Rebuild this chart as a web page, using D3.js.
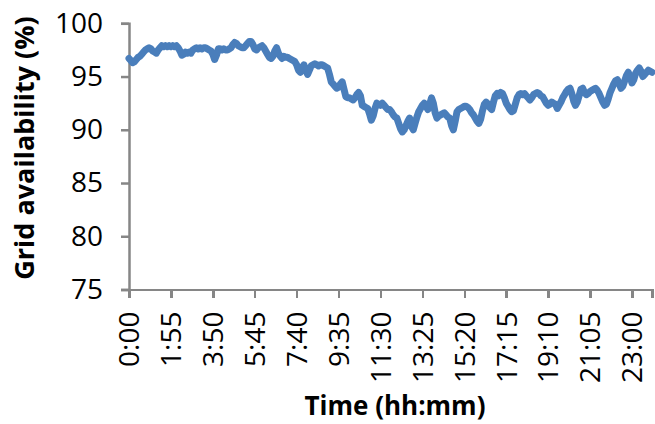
<!DOCTYPE html>
<html>
<head>
<meta charset="utf-8">
<script src="https://cdn.jsdelivr.net/npm/d3@7"></script>
<style>
  html, body { margin: 0; padding: 0; background: #fff; }
  svg { display: block; }
  text { font-family: "Open Sans", "Noto Sans", sans-serif; fill: #000; }
</style>
</head>
<body>
<svg id="chart" width="655" height="424"></svg>
<script>
// Time categories: minutes after midnight at 5-minute steps (0:00 ... 23:55)
const minutes = d3.range(0, 1440, 5);

// Grid availability (%), one value per 5 minutes
const availability = [
  96.7, 96.5, 96.3, 96.4, 96.6, 96.8, 96.9, 97.1, 97.3, 97.5, 97.6, 97.7,
  97.6, 97.4, 97.3, 97.2, 97.5, 97.7, 97.9, 97.8, 97.9, 97.8, 97.9, 97.8,
  97.9, 97.8, 97.9, 97.7, 97.4, 97.0, 97.1, 97.3, 97.2, 97.3, 97.2, 97.5,
  97.6, 97.7, 97.6, 97.7, 97.6, 97.7, 97.7, 97.6, 97.5, 97.4, 97.1, 96.6,
  97.0, 97.6, 97.6, 97.5, 97.6, 97.5, 97.5, 97.6, 97.7, 98.0, 98.2, 98.1,
  97.9, 97.8, 97.7, 97.7, 97.9, 98.1, 98.3, 98.3, 98.0, 97.6, 97.5, 97.7,
  97.8, 97.9, 97.7, 97.4, 97.1, 96.8, 96.7, 96.9, 97.4, 97.7, 97.2, 96.9,
  96.7, 96.9, 96.8, 96.8, 96.7, 96.6, 96.5, 96.4, 96.1, 95.6, 95.4, 95.8,
  96.1, 95.6, 95.2, 95.6, 96.0, 96.1, 96.2, 96.1, 96.0, 96.1, 96.1, 96.0,
  95.9, 95.8, 95.2, 94.5, 94.3, 94.1, 93.9, 94.0, 94.3, 94.5, 93.8, 93.1,
  93.0, 93.0, 92.9, 92.8, 93.0, 93.3, 93.5, 93.2, 92.3, 92.2, 92.1, 92.0,
  91.5, 90.9, 91.3, 92.0, 92.5, 92.4, 92.3, 92.5, 92.3, 92.1, 91.9, 91.9,
  91.7, 91.4, 91.2, 91.1, 90.6, 90.1, 89.8, 90.0, 90.4, 90.8, 91.1, 90.3,
  90.0, 90.6, 91.2, 91.7, 92.0, 92.3, 92.5, 92.2, 91.9, 92.4, 93.0, 92.5,
  91.6, 91.1, 91.3, 91.4, 91.5, 91.6, 91.4, 91.2, 91.1, 90.4, 90.0, 90.8,
  91.7, 91.9, 92.0, 92.1, 92.2, 92.2, 92.1, 91.9, 91.6, 91.4, 91.1, 90.8,
  90.6, 91.0, 91.8, 92.4, 92.6, 92.4, 92.1, 91.9, 92.6, 93.2, 93.4, 93.2,
  93.5, 93.4, 93.0, 92.5, 92.2, 91.9, 91.7, 91.8, 92.4, 93.0, 93.3, 93.4,
  93.3, 93.4, 93.2, 93.0, 92.8, 93.0, 93.3, 93.4, 93.5, 93.4, 93.2, 93.1,
  92.8, 92.5, 92.3, 92.4, 92.6, 92.5, 92.4, 92.0, 92.3, 92.6, 93.0, 93.3,
  93.6, 93.8, 93.9, 93.4, 92.7, 92.3, 92.6, 93.2, 93.8, 93.9, 93.5, 93.3,
  93.4, 93.6, 93.7, 93.8, 93.9, 93.7, 93.4, 93.0, 92.6, 92.3, 92.4, 92.9,
  93.5, 93.9, 94.3, 94.6, 94.7, 94.3, 93.9, 94.1, 94.6, 95.1, 95.4, 95.0,
  94.4, 94.7, 95.3, 95.6, 95.8, 95.5, 95.0, 95.2, 95.4, 95.6, 95.5, 95.4
];

// Tick labels
const xTickLabels = ["0:00","1:55","3:50","5:45","7:40","9:35","11:30","13:25","15:20","17:15","19:10","21:05","23:00"];
const yTicks = [75, 80, 85, 90, 95, 100];

const toMin = s => { const [h, m] = s.split(":").map(Number); return h * 60 + m; };

const svg = d3.select("#chart");
const axisColor = "#868686";

const x = d3.scaleLinear().domain([0, 1435]).range([129, 652]);
const y = d3.scaleLinear().domain([75, 100]).range([289.5, 23.3]);

// Y axis
const yAxis = d3.axisLeft(y).tickValues(yTicks).tickSize(8).tickPadding(18).tickFormat(d3.format("d"));
const gy = svg.append("g").attr("transform", `translate(${x(0)},0)`).call(yAxis);
gy.select(".domain").attr("stroke", axisColor).attr("stroke-width", 2.5);
gy.selectAll(".tick line").attr("stroke", axisColor).attr("stroke-width", 2.5);
gy.selectAll(".tick text").attr("font-size", 28).attr("font-family", "'Open Sans', sans-serif").attr("fill", "#000");

// X axis
const xAxis = d3.axisBottom(x).tickValues(xTickLabels.map(toMin)).tickSize(8)
  .tickFormat((d, i) => xTickLabels[i]);
const gx = svg.append("g").attr("transform", `translate(0,${y(75)})`).call(xAxis);
gx.select(".domain").attr("stroke", axisColor).attr("stroke-width", 2.5);
gx.selectAll(".tick line").attr("stroke", axisColor).attr("stroke-width", 2.5);
gx.selectAll(".tick text")
  .attr("font-size", 28).attr("font-family", "'Open Sans', sans-serif").attr("fill", "#000")
  .attr("text-anchor", "end")
  .attr("transform", "rotate(-90)")
  .attr("x", -22).attr("y", 0).attr("dy", "0.35em");
gx.selectAll(".domain, .tick line").attr("shape-rendering", "crispEdges");

// Line
const line = d3.line()
  .x((d, i) => x(minutes[i]))
  .y(d => y(d))
  .curve(d3.curveLinear);

svg.append("path")
  .datum(availability)
  .attr("fill", "none")
  .attr("stroke", "#4a7ebb")
  .attr("stroke-width", 7)
  .attr("stroke-linejoin", "round")
  .attr("stroke-linecap", "round")
  .attr("d", line);

// Axis titles
svg.append("text")
  .attr("x", 395).attr("y", 415)
  .attr("text-anchor", "middle")
  .attr("font-size", 26).attr("font-weight", "bold")
  .text("Time (hh:mm)");

svg.append("text")
  .attr("transform", "translate(34,148) rotate(-90)")
  .attr("text-anchor", "middle")
  .attr("font-size", 27).attr("font-weight", "bold")
  .text("Grid availability (%)");
</script>
</body>
</html>
